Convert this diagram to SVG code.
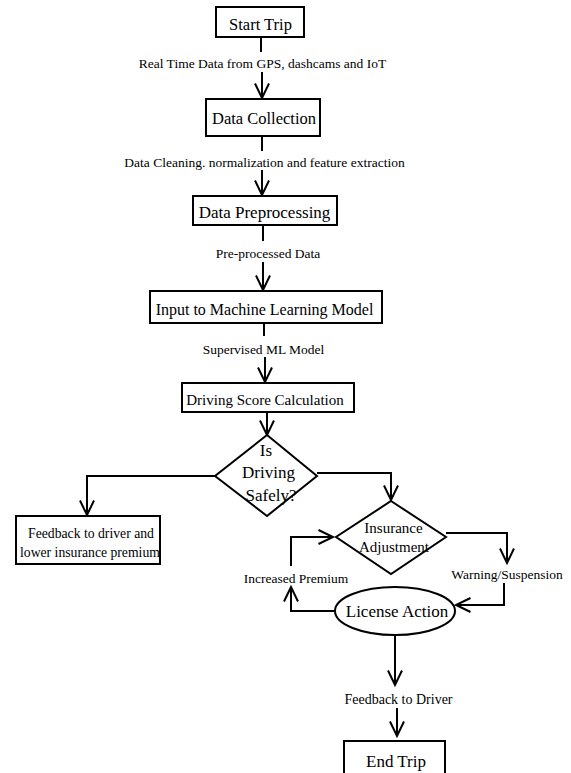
<svg xmlns="http://www.w3.org/2000/svg" width="571" height="773" viewBox="0 0 571 773">
<style>
.n{fill:#fff;stroke:#000;stroke-width:2}
.c{fill:none;stroke:#000;stroke-width:2;marker-end:url(#ah)}
.l{fill:none;stroke:#000;stroke-width:2}
text{font-family:"Liberation Serif","Times New Roman",serif;fill:#000}
.m{text-anchor:middle}
</style>
<defs>
<marker id="ah" markerUnits="userSpaceOnUse" viewBox="0 0 16 16" refX="15" refY="7.5" markerWidth="16" markerHeight="16" orient="auto" overflow="visible">
<path d="M0.5,0.5 L15,7.5 L0.5,14.5" fill="none" stroke="#000" stroke-width="2"/>
</marker>
</defs>
<rect width="571" height="773" fill="#fff"/>
<g id="connectors">
<line class="l" x1="261" y1="37" x2="261" y2="52"/>
<line class="c" x1="262" y1="72" x2="262" y2="98"/>
<line class="l" x1="262" y1="136" x2="262" y2="151"/>
<line class="c" x1="262" y1="170" x2="262" y2="195"/>
<line class="l" x1="263" y1="225" x2="263" y2="241"/>
<line class="c" x1="263" y1="262" x2="263" y2="290"/>
<line class="l" x1="264" y1="323" x2="264" y2="336"/>
<line class="c" x1="265" y1="357" x2="265" y2="382"/>
<line class="c" x1="267" y1="412" x2="267" y2="435"/>
<polyline class="c" points="215,476 87,476 87,515"/>
<polyline class="c" points="317,473 391,473 391,500"/>
<polyline class="c" points="446,533 507,533 507,563"/>
<polyline class="c" points="504,583 504,605 456,605"/>
<polyline class="c" points="335,611 291,611 291,587"/>
<polyline class="c" points="291,566 291,537 333,537"/>
<line class="c" x1="395" y1="636" x2="395" y2="685"/>
<line class="c" x1="397" y1="708" x2="397" y2="736"/>
<text class="m" x="262.5" y="68" font-size="13.5">Real Time Data from GPS, dashcams and IoT</text>
<text class="m" x="264.5" y="167" font-size="13.5">Data Cleaning. normalization and feature extraction</text>
<text class="m" x="268" y="258" font-size="13.5">Pre-processed Data</text>
<text class="m" x="263.5" y="354" font-size="13.5">Supervised ML Model</text>
<text class="m" x="507" y="579" font-size="13.5">Warning/Suspension</text>
<text class="m" x="296" y="583" font-size="13.5">Increased Premium</text>
<text class="m" x="398.5" y="704" font-size="14">Feedback to Driver</text>
</g>
<g id="start">
<rect class="n" x="216" y="7" width="88" height="30"/>
<text class="m" x="260.5" y="30" font-size="16.5">Start Trip</text>
</g>
<g id="collection">
<rect class="n" x="206" y="99" width="114" height="37"/>
<text x="212" y="123.5" font-size="16.5">Data Collection</text>
</g>
<g id="preprocessing">
<rect class="n" x="193" y="196" width="144" height="29"/>
<text class="m" x="264.5" y="217.5" font-size="17">Data Preprocessing</text>
</g>
<g id="ml-input">
<rect class="n" x="150" y="291" width="232" height="32"/>
<text class="m" x="264.5" y="314.5" font-size="16">Input to Machine Learning Model</text>
</g>
<g id="score">
<rect class="n" x="182" y="383" width="172" height="29"/>
<text class="m" x="265" y="405" font-size="15">Driving Score Calculation</text>
</g>
<g id="safe-decision">
<polygon class="n" points="267,435 317,476 267,516 215,476"/>
<text class="m" x="266" y="456" font-size="17">Is</text>
<text class="m" x="268.5" y="478" font-size="17">Driving</text>
<text class="m" x="271" y="501" font-size="17">Safely?</text>
</g>
<g id="feedback-lower">
<rect class="n" x="16" y="516" width="144" height="48"/>
<text class="m" x="91" y="538" font-size="13.7">Feedback to driver and</text>
<text x="20" y="557" font-size="13.7">lower insurance premium</text>
</g>
<g id="insurance">
<polygon class="n" points="391,501 446,537 391,574 336,537"/>
<text class="m" x="393.5" y="533" font-size="15">Insurance</text>
<text class="m" x="394" y="552" font-size="15">Adjustment</text>
</g>
<g id="license">
<ellipse class="n" cx="395" cy="611" rx="60" ry="24"/>
<text class="m" x="397" y="617" font-size="17">License Action</text>
</g>
<g id="end">
<rect class="n" x="344" y="741" width="101" height="40"/>
<text class="m" x="396" y="767" font-size="17">End Trip</text>
</g>
</svg>
